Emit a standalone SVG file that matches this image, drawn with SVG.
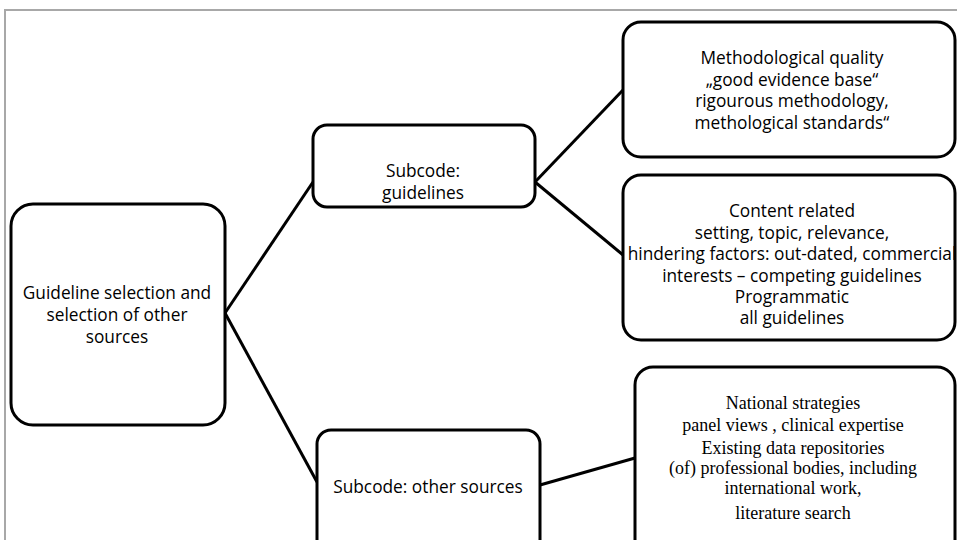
<svg xmlns="http://www.w3.org/2000/svg" width="957" height="540" viewBox="0 0 957 540">
<style>
.box{fill:#fff;stroke:#000;stroke-width:3}
.t{font-family:"Open Sans","Noto Sans",sans-serif;font-size:17.3px;fill:#000;text-anchor:middle;dominant-baseline:central}
.s{font-family:"Liberation Serif","Times New Roman",serif;font-size:18px;fill:#000;text-anchor:middle;dominant-baseline:central}
.c{stroke:#000;stroke-width:3;fill:none}
</style>
<rect width="957" height="540" fill="#fff"/>
<path d="M5,540 V10 H957" fill="none" stroke="#a8a8a8" stroke-width="2"/>
<g id="connectors">
<line class="c" x1="225" y1="313" x2="313" y2="182"/>
<line class="c" x1="225" y1="313" x2="317" y2="482"/>
<line class="c" x1="535" y1="182" x2="623" y2="90"/>
<line class="c" x1="535" y1="182" x2="623" y2="255"/>
<line class="c" x1="540" y1="485" x2="635" y2="458"/>
</g>
<g id="main">
<rect class="box" x="11" y="204" width="214" height="221" rx="22"/>
<text class="t" x="117" y="292">Guideline selection and</text>
<text class="t" x="117" y="314">selection of other</text>
<text class="t" x="117" y="336">sources</text>
</g>
<g id="guidelines">
<rect class="box" x="313" y="125" width="222" height="82" rx="14"/>
<text class="t" x="423" y="170">Subcode:</text>
<text class="t" x="423" y="192">guidelines</text>
</g>
<g id="methodological">
<rect class="box" x="623" y="22" width="332" height="135" rx="18"/>
<text class="t" x="792" y="57">Methodological quality</text>
<text class="t" x="792" y="79">„good evidence base“</text>
<text class="t" x="792" y="100">rigourous methodology,</text>
<text class="t" x="792" y="122">methological standards“</text>
</g>
<g id="content">
<rect class="box" x="623" y="175" width="332" height="165" rx="18"/>
<text class="t" x="792" y="210">Content related</text>
<text class="t" x="792" y="232">setting, topic, relevance,</text>
<text class="t" x="792" y="253">hindering factors: out-dated, commercial</text>
<text class="t" x="792" y="275">interests – competing guidelines</text>
<text class="t" x="792" y="296">Programmatic</text>
<text class="t" x="792" y="317">all guidelines</text>
</g>
<g id="other-sources">
<rect class="box" x="317" y="430" width="223" height="130" rx="14"/>
<text class="t" x="428" y="486">Subcode: other sources</text>
</g>
<g id="other-details">
<rect class="box" x="635" y="367" width="320" height="200" rx="18"/>
<text class="s" x="793" y="403">National strategies</text>
<text class="s" x="793" y="425">panel views , clinical expertise</text>
<text class="s" x="793" y="448">Existing data repositories</text>
<text class="s" x="793" y="468">(of) professional bodies, including</text>
<text class="s" x="793" y="488">international work,</text>
<text class="s" x="793" y="513">literature search</text>
</g>
</svg>
